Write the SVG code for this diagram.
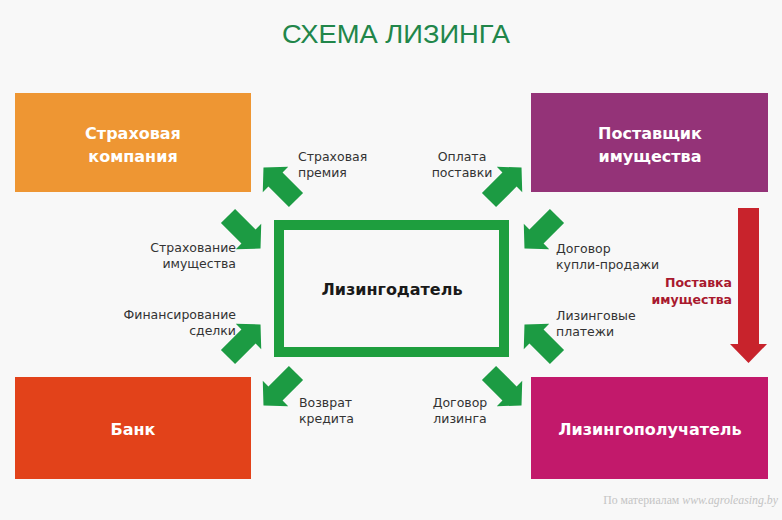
<svg xmlns="http://www.w3.org/2000/svg" width="782" height="520" viewBox="0 0 782 520">
<defs>
<style>
.bx{font-family:"DejaVu Sans","Liberation Sans",sans-serif;font-weight:bold;font-size:16px;fill:#ffffff;text-anchor:middle}
.lb{font-family:"DejaVu Sans","Liberation Sans",sans-serif;font-size:12.5px;fill:#333333}
.ga{fill:#1c9b43}
</style>
<path id="arr" d="M0,-10 L29,-10 L29,-18 L46,0 L29,18 L29,10 L0,10 Z"/>
</defs>
<rect x="0" y="0" width="782" height="520" fill="#f8f8f8"/>
<text x="396" y="43" font-family="Liberation Sans, sans-serif" font-size="25" fill="#21864a" text-anchor="middle" textLength="228" lengthAdjust="spacingAndGlyphs">СХЕМА ЛИЗИНГА</text>

<g id="insurer">
<rect x="15" y="93" width="236" height="99" fill="#ee9633"/>
<text class="bx" x="133" y="139">Страховая</text>
<text class="bx" x="133" y="162">компания</text>
</g>
<g id="supplier">
<rect x="531" y="93" width="237" height="99" fill="#943378"/>
<text class="bx" x="650" y="139">Поставщик</text>
<text class="bx" x="650" y="162">имущества</text>
</g>
<g id="bank">
<rect x="15" y="377" width="236" height="102" fill="#e2421a"/>
<text class="bx" x="133" y="435">Банк</text>
</g>
<g id="lessee">
<rect x="531" y="377" width="237" height="102" fill="#c2196b"/>
<text class="bx" x="650" y="435">Лизингополучатель</text>
</g>
<g id="lessor">
<rect x="279" y="225" width="225" height="127" fill="#f8f8f8" stroke="#1e9e3e" stroke-width="10"/>
<text x="392" y="295" font-family="DejaVu Sans, sans-serif" font-weight="bold" font-size="16" fill="#1a1a1a" text-anchor="middle">Лизингодатель</text>
</g>

<g id="connectors">
<use href="#arr" class="ga" transform="translate(296,200) rotate(225)"/>
<use href="#arr" class="ga" transform="translate(228,216) rotate(45)"/>
<use href="#arr" class="ga" transform="translate(228,357) rotate(-45)"/>
<use href="#arr" class="ga" transform="translate(296,373) rotate(135)"/>
<use href="#arr" class="ga" transform="translate(489,200) rotate(-45)"/>
<use href="#arr" class="ga" transform="translate(557,216) rotate(135)"/>
<use href="#arr" class="ga" transform="translate(557,357) rotate(225)"/>
<use href="#arr" class="ga" transform="translate(489,373) rotate(45)"/>
<path d="M738,208 L759,208 L759,344 L767,344 L748.5,363 L730,344 L738,344 Z" fill="#c8232c"/>
</g>

<g id="labels">
<text class="lb" x="298" y="161">Страховая</text>
<text class="lb" x="298" y="177">премия</text>
<text class="lb" x="462" y="161" text-anchor="middle">Оплата</text>
<text class="lb" x="462" y="177" text-anchor="middle">поставки</text>
<text class="lb" x="236" y="252" text-anchor="end">Страхование</text>
<text class="lb" x="236" y="268" text-anchor="end">имущества</text>
<text class="lb" x="236" y="319" text-anchor="end">Финансирование</text>
<text class="lb" x="236" y="335" text-anchor="end">сделки</text>
<text class="lb" x="299" y="407">Возврат</text>
<text class="lb" x="299" y="423">кредита</text>
<text class="lb" x="460" y="407" text-anchor="middle">Договор</text>
<text class="lb" x="460" y="423" text-anchor="middle">лизинга</text>
<text class="lb" x="556" y="253">Договор</text>
<text class="lb" x="556" y="269">купли-продажи</text>
<text class="lb" x="556" y="320">Лизинговые</text>
<text class="lb" x="556" y="336">платежи</text>
<text x="732" y="287" font-family="DejaVu Sans, sans-serif" font-weight="bold" font-size="12.5" fill="#a8192e" text-anchor="end">Поставка</text>
<text x="732" y="304" font-family="DejaVu Sans, sans-serif" font-weight="bold" font-size="12.5" fill="#a8192e" text-anchor="end">имущества</text>
<text x="778" y="504" font-family="Liberation Serif, serif" font-size="11.8" fill="#c4c4c4" text-anchor="end">По материалам <tspan font-style="italic">www.agroleasing.by</tspan></text>
</g>
</svg>
